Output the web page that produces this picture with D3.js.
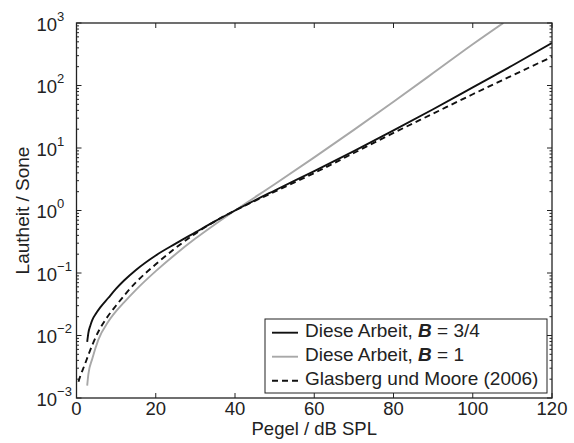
<!DOCTYPE html>
<html>
<head>
<meta charset="utf-8">
<script src="https://cdn.jsdelivr.net/npm/d3@7"></script>
<style>
  body { margin: 0; background: #fff; }
  svg { font-family: "Liberation Sans", Arial, Helvetica, sans-serif; }
</style>
</head>
<body>
<div id="chart"></div>
<script>
var svgWidth = 574;
var svgHeight = 443;

// Axes box position
var margin = { top: 23, right: 22, bottom: 45, left: 76.5 };
var chartWidth = svgWidth - margin.left - margin.right;
var chartHeight = svgHeight - margin.top - margin.bottom;

// Data: level (dB SPL) and loudness (sone)
var levelB34 = [2.7, 3, 3.5, 4, 5, 6, 8, 10, 12, 15, 20, 25, 30, 35, 40, 50, 60, 70, 80, 90, 100, 110, 120];
var soneB34 = [0.0079, 0.011, 0.0145, 0.0178, 0.0229, 0.0282, 0.0398, 0.0562, 0.0759, 0.112, 0.191, 0.295, 0.447, 0.676, 1, 2.09, 4.27, 8.91, 19.1, 41.7, 93.3, 209, 479];

var levelB1 = [2.7, 3, 4, 5.5, 8, 10, 12, 15, 20, 25, 30, 35, 40, 50, 60, 70, 80, 90, 100, 107.7];
var soneB1 = [0.00158, 0.0024, 0.00427, 0.00851, 0.0166, 0.0245, 0.0339, 0.0537, 0.107, 0.200, 0.355, 0.603, 1, 2.63, 7.08, 19.5, 55.0, 158, 457, 1000];

var levelGM = [0.5, 1, 2, 3, 4, 5.5, 7.5, 10, 15, 20, 25, 30, 35, 40, 50, 60, 70, 80, 90, 100, 110, 120];
var soneGM = [0.00182, 0.00229, 0.00331, 0.0049, 0.00708, 0.0115, 0.0186, 0.0302, 0.0708, 0.138, 0.251, 0.427, 0.676, 1, 2.0, 3.98, 8.32, 17.4, 35.5, 72.4, 145, 288];

var xTicks = [0, 20, 40, 60, 80, 100, 120];
var yExponents = [-3, -2, -1, 0, 1, 2, 3];

var svg = d3.select("#chart")
  .append("svg")
  .attr("width", svgWidth)
  .attr("height", svgHeight);

var chartGroup = svg.append("g")
  .attr("transform", `translate(${margin.left}, ${margin.top})`);

var xScale = d3.scaleLinear().domain([0, 120]).range([0, chartWidth]);
var yScale = d3.scaleLog().domain([1e-3, 1e3]).range([chartHeight, 0]);

// Clip for curves
svg.append("defs").append("clipPath").attr("id", "clip")
  .append("rect").attr("width", chartWidth).attr("height", chartHeight);

// Ticks (inside, all four sides)
var majorLen = 5, minorLen = 2.5;
var ticksGroup = chartGroup.append("g").attr("stroke", "#222").attr("stroke-width", 1);

xTicks.forEach(function(t) {
  var x = xScale(t);
  ticksGroup.append("line").attr("x1", x).attr("x2", x).attr("y1", chartHeight).attr("y2", chartHeight - majorLen);
  ticksGroup.append("line").attr("x1", x).attr("x2", x).attr("y1", 0).attr("y2", majorLen);
});

yExponents.forEach(function(e) {
  var y = yScale(Math.pow(10, e));
  ticksGroup.append("line").attr("x1", 0).attr("x2", majorLen).attr("y1", y).attr("y2", y);
  ticksGroup.append("line").attr("x1", chartWidth).attr("x2", chartWidth - majorLen).attr("y1", y).attr("y2", y);
  if (e < 3) {
    for (var m = 2; m <= 9; m++) {
      var ym = yScale(m * Math.pow(10, e));
      ticksGroup.append("line").attr("x1", 0).attr("x2", minorLen).attr("y1", ym).attr("y2", ym);
      ticksGroup.append("line").attr("x1", chartWidth).attr("x2", chartWidth - minorLen).attr("y1", ym).attr("y2", ym);
    }
  }
});

// Curves
var line = d3.line()
  .x(d => xScale(d[0]))
  .y(d => yScale(d[1]))
  .curve(d3.curveMonotoneX);

var curves = chartGroup.append("g").attr("clip-path", "url(#clip)");

curves.append("path")
  .attr("d", line(d3.zip(levelB1, soneB1)))
  .attr("fill", "none")
  .attr("stroke", "#a8a8a8")
  .attr("stroke-width", 1.9);

curves.append("path")
  .attr("d", line(d3.zip(levelGM, soneGM)))
  .attr("fill", "none")
  .attr("stroke", "#111")
  .attr("stroke-width", 1.9)
  .attr("stroke-dasharray", "6,4");

curves.append("path")
  .attr("d", line(d3.zip(levelB34, soneB34)))
  .attr("fill", "none")
  .attr("stroke", "#111")
  .attr("stroke-width", 1.9);

// Axes box
chartGroup.append("rect")
  .attr("width", chartWidth)
  .attr("height", chartHeight)
  .attr("fill", "none")
  .attr("stroke", "#222")
  .attr("stroke-width", 1.3);

// X tick labels
chartGroup.append("g").selectAll("text")
  .data(xTicks)
  .enter()
  .append("text")
  .attr("x", d => xScale(d))
  .attr("y", chartHeight + 17)
  .attr("text-anchor", "middle")
  .attr("font-size", 18.5)
  .attr("fill", "#222")
  .text(d => d);

// Y tick labels: 10^e, base left-aligned, exponent trailing
yExponents.forEach(function(e) {
  var y = yScale(Math.pow(10, e));
  var t = chartGroup.append("text")
    .attr("x", -40)
    .attr("y", y + 7.5)
    .attr("font-size", 18.5)
    .attr("fill", "#222");
  var expStr = e < 0 ? "\u2212" + (-e) : String(e);
  t.append("tspan").text("10");
  t.append("tspan").attr("dy", -10).attr("font-size", 13).text(expStr);
});

// Axis labels
chartGroup.append("text")
  .attr("x", chartWidth / 2)
  .attr("y", chartHeight + 36.5)
  .attr("text-anchor", "middle")
  .attr("font-size", 18.5)
  .attr("fill", "#222")
  .text("Pegel / dB SPL");

chartGroup.append("text")
  .attr("transform", "rotate(-90)")
  .attr("x", -chartHeight / 2)
  .attr("y", -47.5)
  .attr("text-anchor", "middle")
  .attr("font-size", 19)
  .attr("fill", "#222")
  .text("Lautheit / Sone");

// Legend
var legend = svg.append("g").attr("transform", "translate(265, 319)");
legend.append("rect")
  .attr("width", 282)
  .attr("height", 74)
  .attr("fill", "#fff")
  .attr("stroke", "#222")
  .attr("stroke-width", 1);

var legendItems = [
  { color: "#111", dash: null, parts: ["Diese Arbeit, ", "B", " = 3/4"] },
  { color: "#a8a8a8", dash: null, parts: ["Diese Arbeit, ", "B", " = 1"] },
  { color: "#111", dash: "6,4", parts: ["Glasberg und Moore (2006)"] }
];

legendItems.forEach(function(item, i) {
  var cy = 13.7 + i * 24;
  legend.append("line")
    .attr("x1", 7).attr("x2", 33)
    .attr("y1", cy).attr("y2", cy)
    .attr("stroke", item.color)
    .attr("stroke-width", 1.9)
    .attr("stroke-dasharray", item.dash);
  var t = legend.append("text")
    .attr("x", 40)
    .attr("y", cy + 4.5)
    .attr("font-size", 19)
    .attr("fill", "#222");
  item.parts.forEach(function(p, j) {
    var ts = t.append("tspan").text(p);
    if (j === 1) ts.attr("font-weight", "bold").attr("font-style", "italic");
  });
});
</script>
</body>
</html>
